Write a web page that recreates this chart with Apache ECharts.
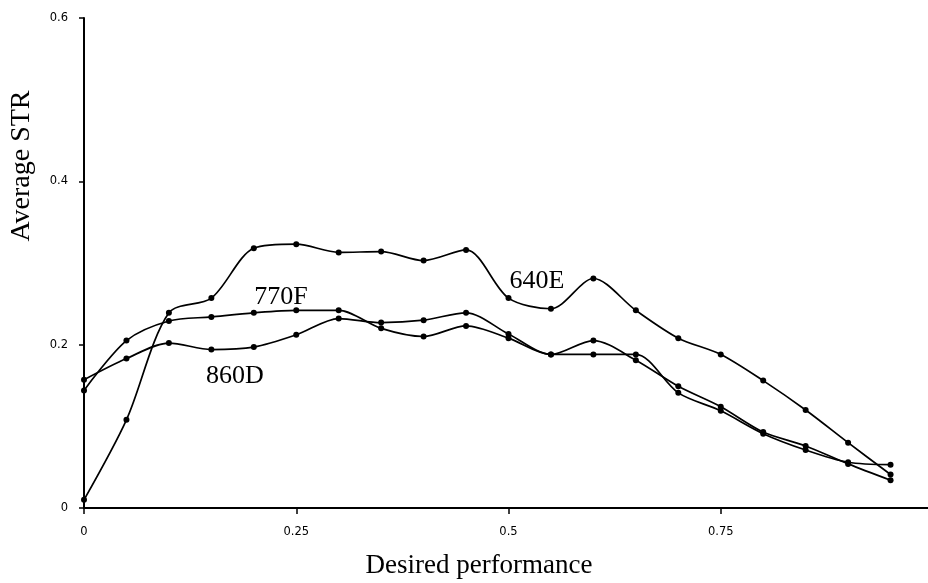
<!DOCTYPE html>
<html>
<head>
<meta charset="utf-8">
<script src="https://cdn.jsdelivr.net/npm/echarts@6/dist/echarts.min.js"></script>
<style>
  html, body { margin: 0; padding: 0; background: #ffffff; }
  #chart { width: 928px; height: 583px; }
</style>
</head>
<body>
<div id="chart"></div>
<script>
// ---- data ----
const xValues = [0, 0.05, 0.1, 0.15, 0.2, 0.25, 0.3, 0.35, 0.4, 0.45, 0.5, 0.55, 0.6, 0.65, 0.7, 0.75, 0.8, 0.85, 0.9, 0.95];
const series640E = [0.010, 0.108, 0.239, 0.257, 0.318, 0.323, 0.313, 0.314, 0.303, 0.316, 0.257, 0.244, 0.281, 0.242, 0.208, 0.188, 0.156, 0.120, 0.080, 0.041];
const series770F = [0.144, 0.205, 0.229, 0.234, 0.239, 0.242, 0.242, 0.220, 0.210, 0.223, 0.208, 0.188, 0.188, 0.188, 0.141, 0.119, 0.091, 0.071, 0.056, 0.053];
const series860D = [0.157, 0.183, 0.202, 0.194, 0.197, 0.212, 0.232, 0.227, 0.230, 0.239, 0.213, 0.188, 0.205, 0.181, 0.149, 0.124, 0.093, 0.076, 0.054, 0.034];
const seriesNames = ['640E', '770F', '860D'];
const xTicks = [0, 0.25, 0.5, 0.75, 1];
const yTicks = [0, 0.2, 0.4, 0.6];
const xTitle = 'Desired performance';
const yTitle = 'Average STR';

function pairs(ys) { return xValues.map((x, i) => [x, ys[i]]); }

const chart = echarts.init(document.getElementById('chart'), null, { renderer: 'canvas' });

const lineStyle = { color: '#000', width: 1.7 };
function makeSeries(name, ys) {
  return {
    name: name,
    type: 'line',
    data: pairs(ys),
    smooth: 0.3,
    symbol: 'circle',
    symbolSize: 6,
    itemStyle: { color: '#000' },
    lineStyle: lineStyle,
    emphasis: { disabled: true },
    animation: false
  };
}

const serif = '"Liberation Serif", "Times New Roman", serif';
const sans = '"DejaVu Sans", "Liberation Sans", Arial, sans-serif';

chart.setOption({
  backgroundColor: '#ffffff',
  animation: false,
  grid: { left: 84, right: -5, top: 18, bottom: 75, containLabel: false, outerBoundsMode: 'none' },
  xAxis: {
    type: 'value',
    min: xTicks[0],
    max: xTicks[xTicks.length - 1],
    interval: 0.25,
    axisLine: { show: true, onZero: false, lineStyle: { color: '#000', width: 2 } },
    axisTick: { show: true, inside: false, length: 6, lineStyle: { color: '#000', width: 1.5 } },
    axisLabel: { color: '#000', fontFamily: sans, fontSize: 11.5, margin: 18, hideOverlap: false,
      formatter: v => String(v) },
    splitLine: { show: false }
  },
  yAxis: {
    type: 'value',
    min: yTicks[0],
    max: yTicks[yTicks.length - 1],
    interval: 0.2,
    axisLine: { show: true, onZero: false, lineStyle: { color: '#000', width: 2 } },
    axisTick: { show: true, inside: false, length: 5, lineStyle: { color: '#000', width: 1.5 } },
    axisLabel: { color: '#000', fontFamily: sans, fontSize: 11.5, margin: 16,
      formatter: v => String(v) },
    splitLine: { show: false }
  },
  graphic: [
    { type: 'text', x: 479, y: 566,
      style: { text: xTitle, fill: '#000', font: '27px ' + serif, align: 'center', verticalAlign: 'middle' } },
    { type: 'text', x: 22, y: 166, rotation: Math.PI / 2,
      style: { text: yTitle, fill: '#000', font: '28px ' + serif, align: 'center', verticalAlign: 'middle' } },
    { type: 'text', x: 537, y: 281,
      style: { text: seriesNames[0], fill: '#000', font: '26px ' + serif, align: 'center', verticalAlign: 'middle' } },
    { type: 'text', x: 281, y: 297,
      style: { text: seriesNames[1], fill: '#000', font: '26px ' + serif, align: 'center', verticalAlign: 'middle' } },
    { type: 'text', x: 235, y: 376,
      style: { text: seriesNames[2], fill: '#000', font: '26px ' + serif, align: 'center', verticalAlign: 'middle' } }
  ],
  series: [
    makeSeries(seriesNames[0], series640E),
    makeSeries(seriesNames[1], series770F),
    makeSeries(seriesNames[2], series860D)
  ]
});
</script>
</body>
</html>
